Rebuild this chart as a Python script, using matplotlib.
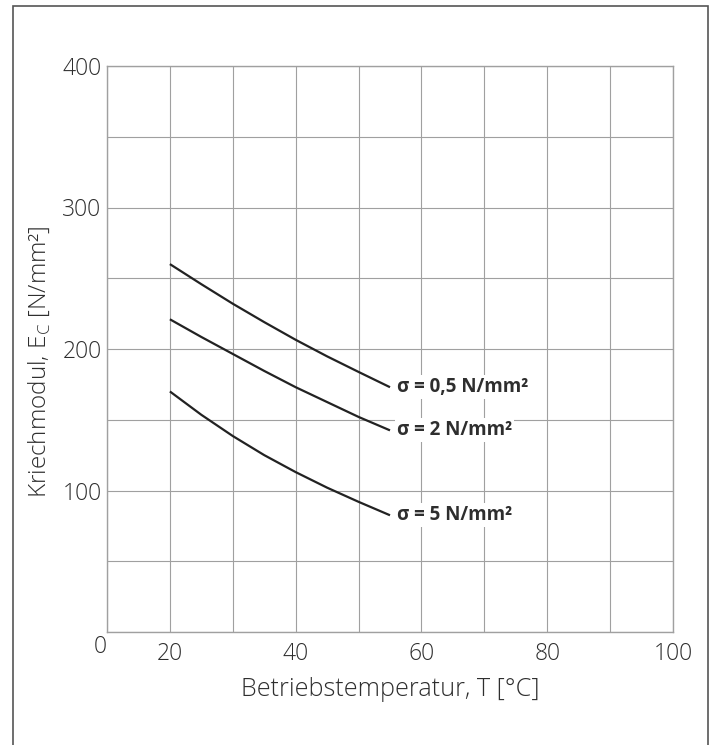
import matplotlib
matplotlib.use("Agg")
import matplotlib.pyplot as plt
from matplotlib.patches import Rectangle

# Kriechmodul over Betriebstemperatur
temps = [20, 25, 30, 35, 40, 45, 50, 55]
ec_05 = [260, 245.8, 232, 219, 206.5, 194.8, 183.8, 173]
ec_2 = [221, 208.5, 196.5, 184.5, 173, 162.5, 152, 142.5]
ec_5 = [170, 153.5, 138.5, 125, 113, 102, 92, 82.5]

series = [
    (ec_05, "σ = 0,5 N/mm²"),
    (ec_2, "σ = 2 N/mm²"),
    (ec_5, "σ = 5 N/mm²"),
]

x_ticks = [20, 40, 60, 80, 100]
y_ticks = [100, 200, 300, 400]

plt.rcParams["font.family"] = ["Open Sans", "DejaVu Sans"]
text_color = "#2e2e2e"
grid_color = "#a0a0a0"

fig = plt.figure(figsize=(7.16, 7.45), dpi=100)
ax = fig.add_axes([107 / 716, 113 / 745, 566 / 716, 566 / 745])

# outer frame of the figure
fig.patches.append(
    Rectangle(
        (13 / 716, -0.02), 695 / 716, 1.02 - 6 / 745,
        transform=fig.transFigure, fill=False, edgecolor="#555555",
        linewidth=1.2, clip_on=False,
    )
)

for values, label in series:
    ax.plot(temps, values, color="#222222", linewidth=1.6,
            solid_capstyle="butt", solid_joinstyle="round")
    ax.annotate(
        label, xy=(temps[-1], values[-1]), xytext=(5, 0),
        textcoords="offset points", ha="left", va="center",
        fontsize=13.5, fontweight="bold", color=text_color,
        bbox=dict(facecolor="white", edgecolor="none", pad=1.5),
    )

ax.set_xlim(10, 100)
ax.set_ylim(0, 400)
ax.set_xticks(range(10, 101, 10), minor=True)
ax.set_yticks(range(0, 401, 50), minor=True)
ax.set_xticks(x_ticks)
ax.set_yticks(y_ticks)
ax.grid(True, which="both", color=grid_color, linewidth=0.8)
ax.set_axisbelow(True)
ax.tick_params(which="both", length=0, colors=text_color, labelsize=16.5)
ax.tick_params(axis="x", pad=7)
ax.tick_params(axis="y", pad=4)
for lbl in ax.get_xticklabels() + ax.get_yticklabels():
    lbl.set_fontweight("light")
for sp in ax.spines.values():
    sp.set_color(grid_color)
    sp.set_linewidth(1.0)

ax.annotate("0", xy=(0, 0), xycoords="axes fraction", xytext=(-5, -10.5),
            textcoords="offset points", ha="center", va="center",
            fontsize=16.5, fontweight="light", color=text_color)

ax.set_xlabel("Betriebstemperatur, T [°C]", fontsize=18.2,
              fontweight="light", color=text_color)
ax.set_ylabel("Kriechmodul, E$_\\mathregular{C}$ [N/mm²]", fontsize=17.5,
              fontweight="light", color=text_color)
ax.xaxis.set_label_coords(0.5, -0.08)
ax.yaxis.set_label_coords(-0.097, 0.477)

fig.savefig("out.png", dpi=100)
